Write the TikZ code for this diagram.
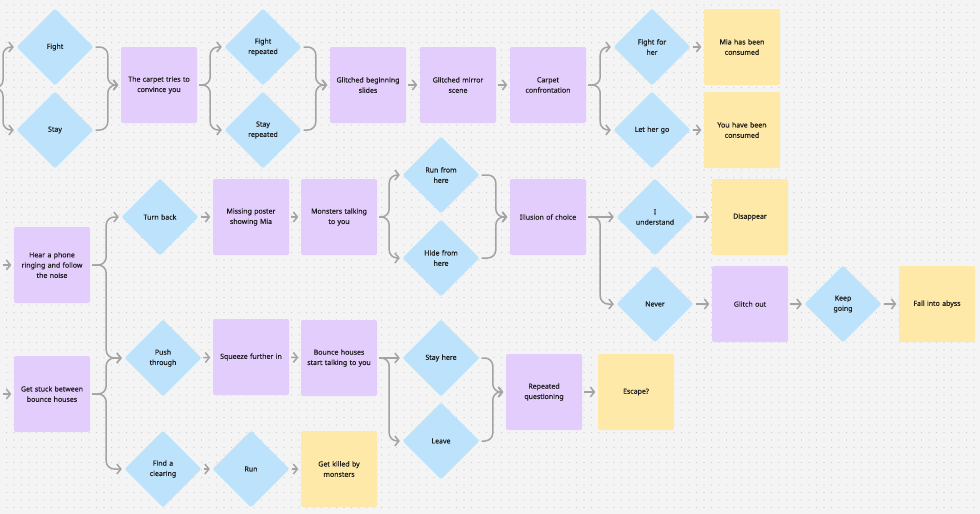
\documentclass[tikz,border=0pt]{standalone}
\usepackage{fontspec}
\setmainfont{Noto Sans}
\newfontfamily\medfont{Noto Sans}[FakeBold=0.35]
\usetikzlibrary{shapes.geometric,arrows.meta}
\definecolor{bgc}{HTML}{F4F4F4}
\definecolor{dotc}{HTML}{CDCDCD}
\definecolor{purp}{HTML}{E3CDFC}
\definecolor{blu}{HTML}{BDE3FC}
\definecolor{yel}{HTML}{FEE9A8}
\definecolor{linec}{HTML}{A3A3A3}
\definecolor{txt}{HTML}{1E1E1E}
\tikzset{
  base/.style={font=\medfont\fontsize{7}{10.3}\selectfont, text=txt, align=center, inner sep=0pt},
  boxp/.style={base, fill=purp, rounded corners=2pt, minimum width=76pt, minimum height=76pt, text width=72pt},
  boxy/.style={base, fill=yel, rounded corners=2pt, minimum width=76pt, minimum height=76pt, text width=72pt},
  dia/.style={base, diamond, fill=blu, rounded corners=2pt, minimum width=77pt, minimum height=77pt, aspect=1, text width=46pt},
  conn/.style={draw=linec, line width=1.5pt, rounded corners=8pt, shorten >=2.5pt, shorten <=2pt, -{Straight Barb[length=4pt,width=10pt,line width=1.5pt]}},
}
\begin{document}
\begin{tikzpicture}[x=1pt,y=-1pt]
\useasboundingbox (0,0) rectangle (980,514);
\clip (0,0) rectangle (980,514);
\fill[bgc] (0,0) rectangle (980,514);
\foreach \y in {5,12.5,...,514} \draw[dotc, line width=1.2pt, line cap=round, dash pattern=on 0pt off 7.5pt] (6.5,\y) -- (980,\y);

% top row
\node[dia] (fight) at (55,47) {Fight};
\node[dia] (stay) at (55,130) {Stay};
\node[boxp] (carpet) at (159,85) {The carpet tries to\\convince you};
\node[dia] (fightr) at (263,47) {Fight\\repeated};
\node[dia] (stayr) at (263,130) {Stay\\repeated};
\node[boxp] (glitchb) at (368,85) {Glitched beginning\\slides};
\node[boxp] (mirror) at (458,85) {Glitched mirror\\scene};
\node[boxp] (confront) at (548,85) {Carpet\\confrontation};
\node[dia] (fighther) at (652,47) {Fight for\\her};
\node[dia] (lether) at (652,130) {Let her go};
\node[boxy] (mia) at (742,47) {Mia has been\\consumed};
\node[boxy] (you) at (742,130) {You have been\\consumed};

% middle
\node[dia] (offa) at (-38,265) {};
\node[dia] (offb) at (-38,394) {};
\node[boxp] (hear) at (52,265) {Hear a phone\\ringing and follow\\the noise};
\node[dia] (turn) at (160,217) {Turn back};
\node[boxp] (missing) at (251,217) {Missing poster\\showing Mia};
\node[boxp] (monsters) at (339,217) {Monsters talking\\to you};
\node[dia] (runfrom) at (441,175) {Run from\\here};
\node[dia] (hide) at (441,258) {Hide from\\here};
\node[boxp] (illusion) at (548,217) {Illusion of choice};
\node[dia] (under) at (655,217) {I\\understand};
\node[dia] (never) at (655,304) {Never};
\node[boxy] (disappear) at (750,217) {Disappear};
\node[boxp] (glitchout) at (750,304) {Glitch out};
\node[dia] (keep) at (843,304) {Keep\\going};
\node[boxy] (abyss) at (937,304) {Fall into abyss};

% bottom
\node[boxp] (stuck) at (52,394) {Get stuck between\\bounce houses};
\node[dia] (push) at (163,358) {Push\\through};
\node[dia] (clearing) at (163,469) {Find a\\clearing};
\node[boxp] (squeeze) at (251,357) {Squeeze further in};
\node[dia] (run) at (251,469) {Run};
\node[boxy] (killed) at (339,469) {Get killed by\\monsters};
\node[boxp] (bounce) at (339,358) {Bounce houses\\start talking to you};
\node[dia] (stayhere) at (441,358) {Stay here};
\node[dia] (leave) at (441,441) {Leave};
\node[boxp] (repeated) at (544,392) {Repeated\\questioning};
\node[boxy] (escape) at (636,392) {Escape?};

\coordinate (offl) at (-20,88);

% connectors top
\draw[conn] (offl) -- (3,88) |- (fight.west);
\draw[conn] (offl) -- (3,88) |- (stay.west);
\draw[conn] (fight.east) -| ([xshift=-13pt]carpet.west) -- (carpet.west);
\draw[conn] (stay.east) -| ([xshift=-13pt]carpet.west) -- (carpet.west);
\draw[conn] (carpet.east) -- ([xshift=13pt]carpet.east) |- (fightr.west);
\draw[conn] (carpet.east) -- ([xshift=13pt]carpet.east) |- (stayr.west);
\draw[conn] (fightr.east) -| ([xshift=-14pt]glitchb.west) -- (glitchb.west);
\draw[conn] (stayr.east) -| ([xshift=-14pt]glitchb.west) -- (glitchb.west);
\draw[conn] (glitchb) -- (mirror);
\draw[conn] (mirror) -- (confront);
\draw[conn] (confront.east) -- ([xshift=14pt]confront.east) |- (fighther.west);
\draw[conn] (confront.east) -- ([xshift=14pt]confront.east) |- (lether.west);
\draw[conn] (fighther) -- (mia);
\draw[conn] (lether) -- (you);

% connectors middle
\draw[conn] (offa) -- (hear);
\draw[conn] (offb) -- (stuck);
\draw[conn] (hear.east) -- ([xshift=16pt]hear.east) |- (turn.west);
\draw[conn] (hear.east) -- ([xshift=16pt]hear.east) |- (push.west);
\draw[conn] (turn) -- (missing);
\draw[conn] (missing) -- (monsters);
\draw[conn] (monsters.east) -- ([xshift=12pt]monsters.east) |- (runfrom.west);
\draw[conn] (monsters.east) -- ([xshift=12pt]monsters.east) |- (hide.west);
\draw[conn] (runfrom.east) -| ([xshift=-14pt]illusion.west) -- (illusion.west);
\draw[conn] (hide.east) -| ([xshift=-14pt]illusion.west) -- (illusion.west);
\draw[conn] (illusion) -- (under);
\draw[conn] (illusion.east) -- ([xshift=14pt]illusion.east) |- (never.west);
\draw[conn] (under) -- (disappear);
\draw[conn] (never) -- (glitchout);
\draw[conn] (glitchout) -- (keep);
\draw[conn] (keep) -- (abyss);

% connectors bottom
\draw[conn] (stuck.east) -- ([xshift=16pt]stuck.east) |- (push.west);
\draw[conn] (stuck.east) -- ([xshift=16pt]stuck.east) |- (clearing.west);
\draw[conn] (push) -- (squeeze);
\draw[conn] (squeeze) -- (bounce);
\draw[conn] (clearing) -- (run);
\draw[conn] (run) -- (killed);
\draw[conn] (bounce) -- (stayhere);
\draw[conn] (bounce.east) -- ([xshift=12pt]bounce.east) |- (leave.west);
\draw[conn] (stayhere.east) -| ([xshift=-13pt]repeated.west) -- (repeated.west);
\draw[conn] (leave.east) -| ([xshift=-13pt]repeated.west) -- (repeated.west);
\draw[conn] (repeated) -- (escape);
\end{tikzpicture}
\end{document}
